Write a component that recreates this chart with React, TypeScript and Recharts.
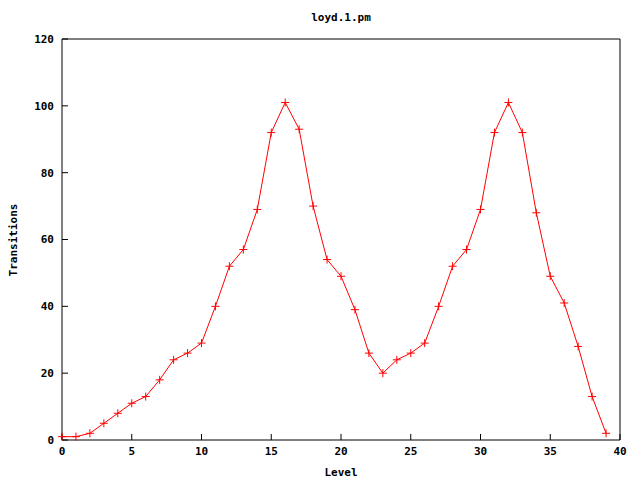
import React from "react";
import { LineChart, Line, XAxis, YAxis } from "recharts";

const levels = [0,1,2,3,4,5,6,7,8,9,10,11,12,13,14,15,16,17,18,19,20,21,22,23,24,25,26,27,28,29,30,31,32,33,34,35,36,37,38,39];
const transitions = [1,1,2,5,8,11,13,18,24,26,29,40,52,57,69,92,101,93,70,54,49,39,26,20,24,26,29,40,52,57,69,92,101,92,68,49,41,28,13,2];
const xTicks = [0,5,10,15,20,25,30,35,40];
const yTicks = [0,20,40,60,80,100,120];
const title = "loyd.1.pm";
const xLabel = "Level";
const yLabel = "Transitions";

const data = levels.map((l, i) => ({ level: l, value: transitions[i] }));

const FONT = "'DejaVu Sans Mono', monospace";
const RED = "#ff0000";

const PlusDot = (props: any) => {
  const { cx, cy, index } = props;
  if (cx == null || cy == null) return <g key={index} />;
  return (
    <path
      key={index}
      d={`M${cx - 4},${cy}H${cx + 4}M${cx},${cy - 4}V${cy + 4}`}
      stroke={RED}
      strokeWidth={1}
      fill="none"
    />
  );
};

const tickStyle = { fill: "#000", fontFamily: FONT, fontSize: 11, fontWeight: "bold" as const };

export default function App() {
  return (
    <div style={{ position: "absolute", left: 0, top: 0, width: 640, height: 480, background: "#fff" }}>
      <LineChart width={640} height={480} data={data} margin={{ top: 0, right: 0, bottom: 0, left: 0 }}>
        <XAxis
          dataKey="level"
          type="number"
          domain={[0, 40]}
          ticks={xTicks}
          height={40}
          tickSize={-6}
          tickMargin={13}
          axisLine={{ stroke: "#000" }}
          tickLine={{ stroke: "#000" }}
          tick={tickStyle}
          interval={0}
        />
        <XAxis
          xAxisId="top"
          orientation="top"
          dataKey="level"
          type="number"
          domain={[0, 40]}
          ticks={xTicks}
          height={39}
          tickSize={-6}
          axisLine={{ stroke: "#000" }}
          tickLine={{ stroke: "#000" }}
          tick={false}
          interval={0}
        />
        <YAxis
          type="number"
          domain={[0, 120]}
          ticks={yTicks}
          width={62}
          tickSize={-6}
          tickMargin={14}
          axisLine={{ stroke: "#000" }}
          tickLine={{ stroke: "#000" }}
          tick={tickStyle}
          interval={0}
        />
        <YAxis
          yAxisId="right"
          orientation="right"
          type="number"
          domain={[0, 120]}
          ticks={yTicks}
          width={20}
          tickSize={-6}
          axisLine={{ stroke: "#000" }}
          tickLine={{ stroke: "#000" }}
          tick={false}
          interval={0}
        />
        <Line
          dataKey="value"
          type="linear"
          stroke={RED}
          strokeWidth={1}
          dot={PlusDot}
          activeDot={false}
          isAnimationActive={false}
        />
      </LineChart>
      <div style={{ position: "absolute", left: 0, width: 682, top: 10, textAlign: "center", fontFamily: FONT, fontSize: 11, fontWeight: "bold", lineHeight: "16px" }}>
        {title}
      </div>
      <div style={{ position: "absolute", left: 0, width: 682, top: 465, textAlign: "center", fontFamily: FONT, fontSize: 11, fontWeight: "bold", lineHeight: "16px" }}>
        {xLabel}
      </div>
      <div style={{ position: "absolute", left: 14 - 50, top: 240 - 8, width: 100, height: 16, textAlign: "center", fontFamily: FONT, fontSize: 11, fontWeight: "bold", lineHeight: "16px", transform: "rotate(-90deg)" }}>
        {yLabel}
      </div>
    </div>
  );
}
